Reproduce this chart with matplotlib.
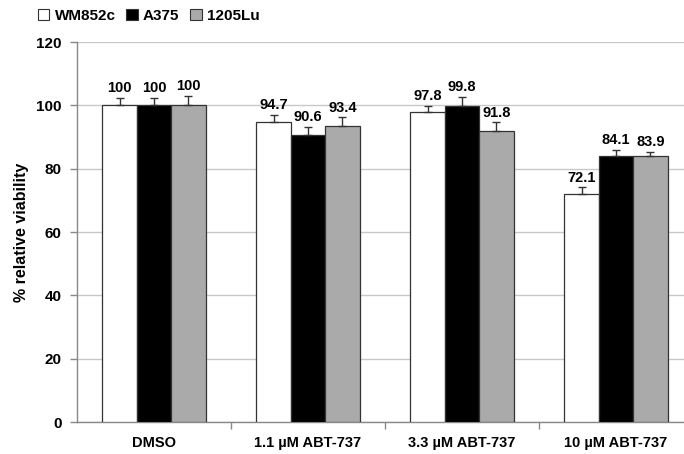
import matplotlib
matplotlib.use("Agg")
import matplotlib.pyplot as plt
import numpy as np
from matplotlib.patches import Patch

categories = ["DMSO", "1.1 \u00b5M ABT-737", "3.3 \u00b5M ABT-737", "10 \u00b5M ABT-737"]
series_names = ["WM852c", "A375", "1205Lu"]
wm852c = [100, 94.7, 97.8, 72.1]
a375 = [100, 90.6, 99.8, 84.1]
lu1205 = [100, 93.4, 91.8, 83.9]
wm852c_err = [2.3, 2.2, 2.0, 2.0]
a375_err = [2.3, 2.5, 2.8, 1.8]
lu1205_err = [3.0, 2.8, 2.8, 1.3]
yticks = [0, 20, 40, 60, 80, 100, 120]

plt.rcParams['font.family'] = ['Liberation Sans', 'DejaVu Sans']

fig = plt.figure(figsize=(6.84, 4.54), dpi=100)
ax = fig.add_axes([77/684, 32/454, 1 - 77/684, 380/454])

colors = ["white", "black", "#aaaaaa"]
values = [wm852c, a375, lu1205]
errs = [wm852c_err, a375_err, lu1205_err]
x = np.arange(len(categories))
w = 0.222
offs = [-0.224, 0, 0.224]
for vals, err, c, o in zip(values, errs, colors, offs):
    ax.bar(x + o, vals, width=w, color=c, edgecolor="#333333", linewidth=0.9, zorder=3)
    ax.errorbar(x + o, vals, yerr=[np.zeros(len(vals)), err], fmt="none",
                ecolor="#333333", elinewidth=1, capsize=3, capthick=1, zorder=4)
    for xi, v, e in zip(x + o, vals, err):
        lab = f"{v:g}" if v != int(v) else f"{int(v)}"
        ax.annotate(lab, (xi, v + e), xytext=(0, 2), textcoords="offset points",
                    ha="center", va="bottom", fontsize=10.5, fontweight="bold")

ax.set_ylim(0, 120)
ax.set_xlim(-0.5, -0.5 + 607/154)
ax.set_yticks(yticks)
ax.set_yticklabels([str(t) for t in yticks], fontsize=11, fontweight="bold")
ax.yaxis.grid(True, color="#c8c8c8", linewidth=1, zorder=0)
ax.set_axisbelow(True)
ax.tick_params(axis="y", length=5, color="#888888", width=1, pad=6)

ax.set_xticks(x)
ax.set_xticklabels(categories, fontsize=10.5, fontweight="bold")
ax.tick_params(axis="x", which="major", length=0, pad=10)
ax.set_xticks(np.arange(0.5, len(categories) - 0.5, 1), minor=True)
ax.tick_params(axis="x", which="minor", length=5, color="#888888", width=1)

for s in ["top", "right"]:
    ax.spines[s].set_visible(False)
for s in ["left", "bottom"]:
    ax.spines[s].set_color("#888888")
    ax.spines[s].set_linewidth(1)

ax.set_ylabel("% relative viability", fontsize=11.5, fontweight="bold", labelpad=5)

handles = [Patch(facecolor=c, edgecolor="#333333", linewidth=0.8) for c in colors]
fig.legend(handles, series_names, loc="upper left", bbox_to_anchor=(0.035, 1.01),
           ncol=3, frameon=False, handlelength=0.75, handleheight=0.75,
           handletextpad=0.35, columnspacing=0.7,
           prop={"weight": "bold", "size": 11})

fig.savefig("out.png", dpi=100)
